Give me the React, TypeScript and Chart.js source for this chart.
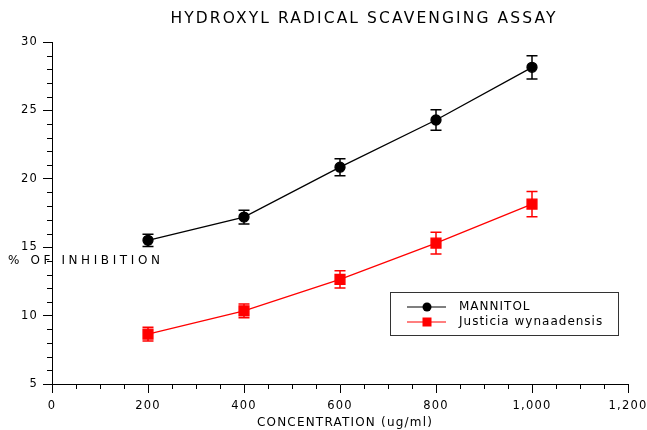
import React, { useEffect, useRef } from "react";
import { Chart, registerables } from "chart.js";

Chart.register(...registerables);

const concentrations = [200, 400, 600, 800, 1000];
const mannitol = [15.5, 17.2, 20.85, 24.3, 28.15];
const mannitolErr = [0.45, 0.5, 0.62, 0.75, 0.85];
const justicia = [8.65, 10.35, 12.65, 15.3, 18.15];
const justiciaErr = [0.5, 0.5, 0.63, 0.8, 0.92];

const seriesNames = ["MANNITOL", "Justicia wynaadensis"];
const titleText = "HYDROXYL RADICAL SCAVENGING ASSAY";
const xTitle = "CONCENTRATION (ug/ml)";
const yTitle = "% OF INHIBITION";

const FONT = "'DejaVu Sans', Verdana, sans-serif";

const errorBarPlugin = {
  id: "errorBars",
  beforeDatasetsDraw(chart: any) {
    const ctx = chart.ctx;
    const ys = chart.scales.y;
    const xs = chart.scales.x;
    chart.data.datasets.forEach((ds: any) => {
      const errs: number[] = ds.errors || [];
      ctx.save();
      ctx.strokeStyle = ds.borderColor;
      ctx.lineWidth = 1.5;
      ds.data.forEach((p: any, i: number) => {
        const e = errs[i];
        if (e == null) return;
        const px = xs.getPixelForValue(p.x);
        const top = ys.getPixelForValue(p.y + e);
        const bot = ys.getPixelForValue(p.y - e);
        const cap = 5.5;
        ctx.beginPath();
        ctx.moveTo(px, top);
        ctx.lineTo(px, bot);
        ctx.moveTo(px - cap, top);
        ctx.lineTo(px + cap, top);
        ctx.moveTo(px - cap, bot);
        ctx.lineTo(px + cap, bot);
        ctx.stroke();
      });
      ctx.restore();
    });
  },
};

const decorPlugin = {
  id: "decor",
  beforeDraw(chart: any) {
    chart.ctx.letterSpacing = "1.2px";
  },
  afterDraw(chart: any) {
    const ctx = chart.ctx;
    const xs = chart.scales.x;
    const ys = chart.scales.y;
    const area = chart.chartArea;
    ctx.save();
    // minor ticks
    ctx.strokeStyle = "#000";
    ctx.lineWidth = 1;
    ctx.beginPath();
    for (let v = ys.min; v <= ys.max; v += 1) {
      if (v % 5 === 0) continue;
      const py = Math.round(ys.getPixelForValue(v)) + 0.5;
      ctx.moveTo(area.left - 5, py);
      ctx.lineTo(area.left, py);
    }
    for (let v = xs.min; v <= xs.max; v += 50) {
      if (v % 200 === 0) continue;
      const px = Math.round(xs.getPixelForValue(v)) + 0.5;
      ctx.moveTo(px, area.bottom);
      ctx.lineTo(px, area.bottom + 5);
    }
    ctx.stroke();

    // title
    ctx.fillStyle = "#000";
    ctx.textBaseline = "middle";
    ctx.textAlign = "center";
    ctx.font = `15.5px ${FONT}`;
    ctx.letterSpacing = "2.1px";
    ctx.fillText(titleText, 364, 19);

    // x axis title
    ctx.font = `12px ${FONT}`;
    ctx.letterSpacing = "1.2px";
    ctx.fillText(xTitle, 345, 423);

    // y axis title (horizontal, overlapping axis)
    ctx.textAlign = "left";
    ctx.letterSpacing = "3.6px";
    ctx.fillText(yTitle, 8, 261);

    // legend
    const lx = 390.5, ly = 292.5, lw = 228, lh = 43;
    ctx.fillStyle = "#fff";
    ctx.fillRect(lx, ly, lw, lh);
    ctx.strokeStyle = "#333";
    ctx.lineWidth = 1;
    ctx.strokeRect(lx, ly, lw, lh);
    const rows = [307, 322];
    chart.data.datasets.forEach((ds: any, i: number) => {
      const y = rows[i];
      ctx.strokeStyle = ds.borderColor;
      ctx.lineWidth = 1.2;
      ctx.beginPath();
      ctx.moveTo(407, y);
      ctx.lineTo(446, y);
      ctx.stroke();
      ctx.fillStyle = ds.pointBackgroundColor;
      if (ds.pointStyle === "rect") {
        ctx.fillRect(427 - 4.5, y - 4.5, 9, 9);
      } else {
        ctx.beginPath();
        ctx.arc(427, y, 4.5, 0, Math.PI * 2);
        ctx.fill();
      }
      ctx.fillStyle = "#000";
      ctx.font = `12px ${FONT}`;
      ctx.letterSpacing = "1px";
      ctx.textAlign = "left";
      ctx.fillText(ds.label, 459, y);
    });
    ctx.restore();
  },
};

export default function App() {
  const ref = useRef<HTMLCanvasElement | null>(null);
  useEffect(() => {
    if (!ref.current) return;
    const chart = new Chart(ref.current, {
      type: "line",
      data: {
        datasets: [
          {
            label: seriesNames[0],
            data: concentrations.map((x, i) => ({ x, y: mannitol[i] })),
            errors: mannitolErr,
            borderColor: "#000000",
            backgroundColor: "#000000",
            pointBackgroundColor: "#000000",
            pointBorderColor: "#000000",
            pointStyle: "circle",
            pointRadius: 5,
            borderWidth: 1.3,
            tension: 0,
          } as any,
          {
            label: seriesNames[1],
            data: concentrations.map((x, i) => ({ x, y: justicia[i] })),
            errors: justiciaErr,
            borderColor: "#ff0000",
            backgroundColor: "#ff0000",
            pointBackgroundColor: "#ff0000",
            pointBorderColor: "#ff0000",
            pointStyle: "rect",
            pointRadius: 7,
            borderWidth: 1.3,
            tension: 0,
          } as any,
        ],
      },
      options: {
        responsive: false,
        animation: false,
        layout: { padding: { left: 0, top: 42, right: 19, bottom: 0 } },
        plugins: {
          legend: { display: false },
          title: { display: false },
          tooltip: { enabled: false },
        },
        scales: {
          x: {
            type: "linear",
            min: 0,
            max: 1200,
            ticks: {
              stepSize: 200,
              color: "#000",
              font: { family: FONT, size: 11.5 },
              padding: 6,
              maxRotation: 0,
              callback: (v: any) => Number(v).toLocaleString("en-US"),
            },
            grid: { drawOnChartArea: false, drawTicks: true, tickLength: 9, color: "#000", lineWidth: 1 },
            border: { color: "#000", width: 1 },
            afterFit: (s: any) => {
              s.height = 46;
              s.paddingLeft = 0;
              s.paddingRight = 0;
            },
          },
          y: {
            min: 5,
            max: 30,
            ticks: {
              stepSize: 5,
              color: "#000",
              font: { family: FONT, size: 11.5 },
              padding: 5,
            },
            grid: { drawOnChartArea: false, drawTicks: true, tickLength: 9, color: "#000", lineWidth: 1 },
            border: { color: "#000", width: 1 },
            afterFit: (s: any) => {
              s.width = 52;
              s.paddingTop = 0;
              s.paddingBottom = 0;
            },
          },
        },
      } as any,
      plugins: [errorBarPlugin, decorPlugin],
    });
    return () => chart.destroy();
  }, []);
  return (
    <div style={{ position: "absolute", left: 0, top: 0, width: 647, height: 430, background: "#fff" }}>
      <canvas ref={ref} width={647} height={430} />
    </div>
  );
}
